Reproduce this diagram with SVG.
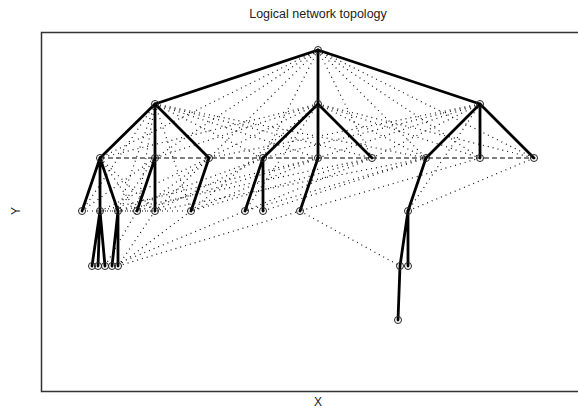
<svg xmlns="http://www.w3.org/2000/svg" width="578" height="412" viewBox="0 0 578 412">
<style>
.t{font-family:"Liberation Sans",Arial,sans-serif;fill:#222}
.e{stroke:#000;stroke-width:2.8;fill:none;stroke-linecap:round}
.d{stroke:#111;stroke-width:1.2;stroke-dasharray:1 4;fill:none}
.h{stroke:#555;stroke-width:1.3;stroke-dasharray:5 3;fill:none}
.n circle{fill:none;stroke:#222;stroke-width:1}
</style>
<rect width="578" height="412" fill="#fff"/>
<text class="t" x="318" y="18" font-size="12.5" text-anchor="middle">Logical network topology</text>
<text class="t" x="318" y="406" font-size="12" text-anchor="middle">X</text>
<text class="t" x="0" y="0" font-size="12" text-anchor="middle" transform="translate(20,211) rotate(-90)">Y</text>
<path d="M578 32.5H41.5V391.5H578" stroke="#333" stroke-width="1.5" fill="none"/>
<g id="connectors">
<g id="dotted">
<path class="d" d="M318 50L155 158M318 50L209 158M318 50L263 158M318 50L372 158M318 50L426 158M318 50L534 158M318 50L100 158M318 50L480 158"/>
<path class="d" d="M155 104L263 158M155 104L318 158M155 104L372 158M155 104L426 158M155 104L82 211M155 104L118 211M155 104L137 211M155 104L191 211"/>
<path class="d" d="M318 104L100 158M318 104L155 158M318 104L209 158M318 104L426 158M318 104L480 158M318 104L245 211M318 104L191 211M318 104L534 158"/>
<path class="d" d="M480 104L318 158M480 104L372 158M480 104L263 158M480 104L408 211M480 104L209 158"/>
<path class="d" d="M100 158L155 211M100 158L137 211M155 158L82 211M155 158L118 211M209 158L155 211M209 158L137 211M209 158L100 211"/>
<path class="d" d="M263 158L155 211M263 158L118 211M318 158L137 211M318 158L191 211M372 158L245 211M372 158L118 211M426 158L263 211M426 158L155 211M480 158L300 211M534 158L408 211M372 158L191 211M426 158L245 211M318 158L100 211"/>
<path class="d" d="M82 211L191 211M100 211L155 211"/>
<path class="d" d="M118 266L191 211M112 266L245 211M118 266L300 211M300 211L400 266M118 266L155 211M105 266L137 211"/>
</g>
<path class="h" d="M100 158H534"/>
<g id="edges">
<path class="e" d="M318 50L155 104M318 50L318 104M318 50L480 104"/>
<path class="e" d="M155 104L100 158M155 104L155 158M155 104L209 158"/>
<path class="e" d="M318 104L263 158M318 104L318 158M318 104L372 158"/>
<path class="e" d="M480 104L426 158M480 104L480 158M480 104L534 158"/>
<path class="e" d="M100 158L82 211M100 158L100 211M100 158L118 211"/>
<path class="e" d="M155 158L137 211M155 158L155 211M209 158L191 211"/>
<path class="e" d="M263 158L245 211M263 158L263 211M318 158L300 211M426 158L408 211"/>
<path class="e" d="M100 211L92 266M100 211L98 266M100 211L105 266M118 211L112 266M118 211L118 266"/>
<path class="e" d="M408 211L400 266M408 211L408 266M400 266L398 320"/>
</g>
</g>
<g id="nodes" class="n">
<g id="R"><circle cx="318" cy="50" r="3.5"/></g>
<g id="A1"><circle cx="155" cy="104" r="3.5"/></g>
<g id="A2"><circle cx="318" cy="104" r="3.5"/></g>
<g id="A3"><circle cx="480" cy="104" r="3.5"/></g>
<g id="B1"><circle cx="100" cy="158" r="3.5"/></g>
<g id="B2"><circle cx="155" cy="158" r="3.5"/></g>
<g id="B3"><circle cx="209" cy="158" r="3.5"/></g>
<g id="B4"><circle cx="263" cy="158" r="3.5"/></g>
<g id="B5"><circle cx="318" cy="158" r="3.5"/></g>
<g id="B6"><circle cx="372" cy="158" r="3.5"/></g>
<g id="B7"><circle cx="426" cy="158" r="3.5"/></g>
<g id="B8"><circle cx="480" cy="158" r="3.5"/></g>
<g id="B9"><circle cx="534" cy="158" r="3.5"/></g>
<g id="C1"><circle cx="82" cy="211" r="3.5"/></g>
<g id="C2"><circle cx="100" cy="211" r="3.5"/></g>
<g id="C3"><circle cx="118" cy="211" r="3.5"/></g>
<g id="C4"><circle cx="137" cy="211" r="3.5"/></g>
<g id="C5"><circle cx="155" cy="211" r="3.5"/></g>
<g id="C6"><circle cx="191" cy="211" r="3.5"/></g>
<g id="C7"><circle cx="245" cy="211" r="3.5"/></g>
<g id="C8"><circle cx="263" cy="211" r="3.5"/></g>
<g id="C9"><circle cx="300" cy="211" r="3.5"/></g>
<g id="C10"><circle cx="408" cy="211" r="3.5"/></g>
<g id="D1"><circle cx="92" cy="266" r="3.5"/></g>
<g id="D2"><circle cx="98" cy="266" r="3.5"/></g>
<g id="D3"><circle cx="105" cy="266" r="3.5"/></g>
<g id="D4"><circle cx="112" cy="266" r="3.5"/></g>
<g id="D5"><circle cx="118" cy="266" r="3.5"/></g>
<g id="D6"><circle cx="400" cy="266" r="3.5"/></g>
<g id="D7"><circle cx="408" cy="266" r="3.5"/></g>
<g id="E1"><circle cx="398" cy="320" r="3.5"/></g>
</g>
</svg>
